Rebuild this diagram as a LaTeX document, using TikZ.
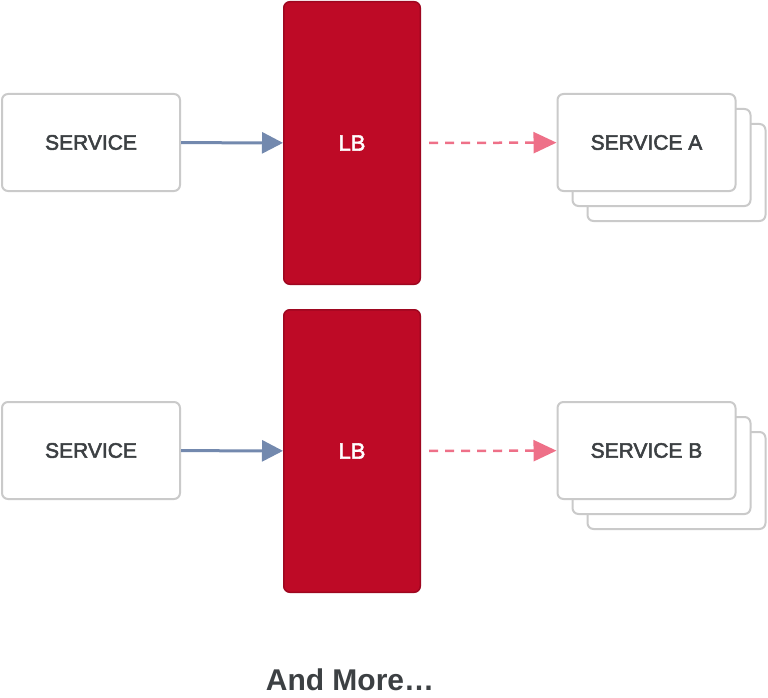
\documentclass[tikz,border=0pt]{standalone}
\usepackage{fontspec}
\setmainfont{Liberation Sans}
\newfontfamily\medfont[FakeBold=2.5]{Liberation Sans}
\usetikzlibrary{arrows.meta}

\definecolor{lbred}{HTML}{BE0A26}
\definecolor{lbedge}{HTML}{9E0720}
\definecolor{boxgray}{HTML}{CACACA}
\definecolor{txtgray}{HTML}{3C4043}
\definecolor{callblue}{HTML}{7389AE}
\definecolor{callpink}{HTML}{EE7088}

\begin{document}
\begin{tikzpicture}[x=1pt,y=-1pt,
    svc/.style={draw=boxgray,line width=2pt,rounded corners=6pt,fill=white,
        minimum width=178pt,minimum height=97pt,inner sep=0pt,
        text=txtgray,font=\medfont\fontsize{21}{24}\selectfont},
    lb/.style={draw=lbedge,line width=1.5pt,rounded corners=6pt,fill=lbred,
        minimum width=136.5pt,minimum height=282.5pt,inner sep=0pt,
        text=white,font=\medfont\fontsize{22}{24}\selectfont},
    call/.style={draw=callblue,line width=3pt,
        -{Triangle[length=21pt,width=21pt,fill=callblue]}},
    fwd/.style={draw=callpink,line width=2.5pt,dash pattern=on 9pt off 7pt,
        shorten <=8pt,-{Triangle[length=23pt,width=21pt,fill=callpink]}}]
        \useasboundingbox (0,0) rectangle (768,698);

        % upper row
        \node[svc] (svc1) at (91,142.5) {SERVICE};
        \node[lb] (lb1) at (352,143) {LB};
        % stacked copies behind service A
        \foreach \d in {30,15}
                \node[svc] (sa\d) at (646.5+\d,142.5+\d) {};
        \node[svc] (sa) at (646.5,142.5) {SERVICE A};

        % lower row
        \node[svc] (svc2) at (91,450.5) {SERVICE};
        \node[lb] (lb2) at (352,451) {LB};
        \foreach \d in {30,15}
                \node[svc] (sb\d) at (646.5+\d,450.5+\d) {};
        \node[svc] (sb) at (646.5,450.5) {SERVICE B};

        % connections
        \draw[call] (svc1) -- (lb1);
        \draw[fwd] (lb1) -- (sa);
        \draw[call] (svc2) -- (lb2);
        \draw[fwd] (lb2) -- (sb);

        \node[text=txtgray,font=\fontsize{30}{36}\selectfont\bfseries] (more) at (350,680) {And More…};
\end{tikzpicture}
\end{document}
